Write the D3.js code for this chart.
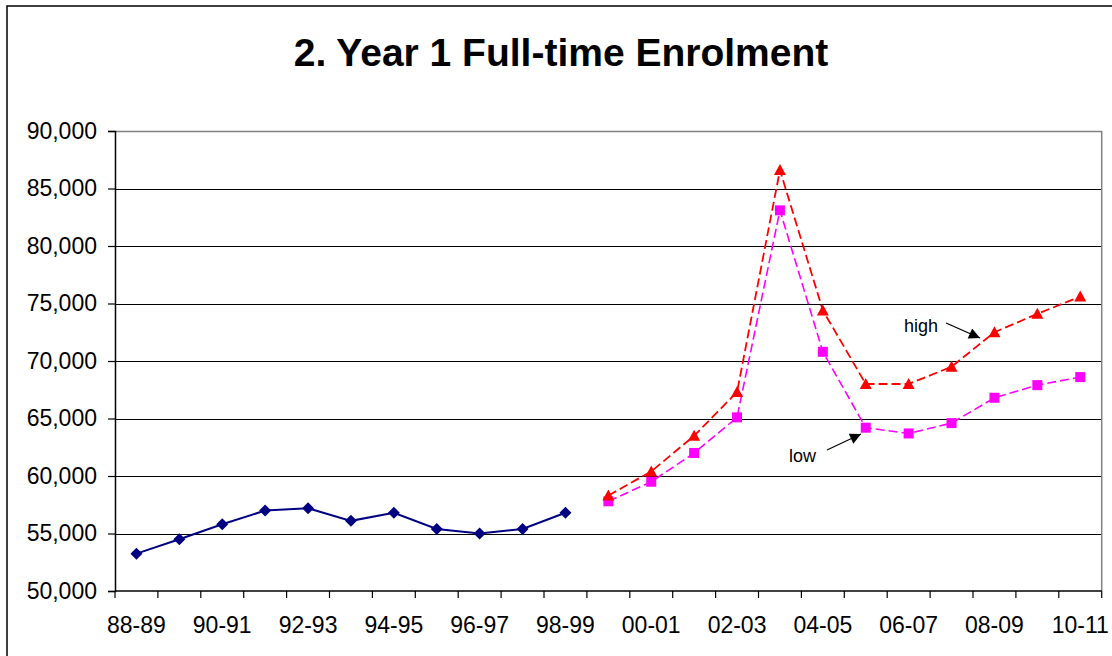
<!DOCTYPE html>
<html>
<head>
<meta charset="utf-8">
<script src="https://cdn.jsdelivr.net/npm/d3@7"></script>
<style>
  html, body { margin: 0; padding: 0; background: #fff; }
  svg { display: block; font-family: "Liberation Sans", Arial, Helvetica, sans-serif; }
</style>
</head>
<body>
<svg id="chart" width="1112" height="656"></svg>
<script>
// School years on the category axis
const categories = ["88-89","89-90","90-91","91-92","92-93","93-94","94-95","95-96","96-97","97-98","98-99",
                    "99-00","00-01","01-02","02-03","03-04","04-05","05-06","06-07","07-08","08-09","09-10","10-11"];

// Actual enrolment, 88-89 to 98-99
const actualYears = categories.slice(0, 11);
const actualValues = [53250, 54500, 55800, 57000, 57200, 56100, 56800, 55400, 55000, 55400, 56800];

// Projections, 99-00 to 10-11
const projYears = categories.slice(11);
const highValues = [58300, 60400, 63500, 67300, 86600, 74400, 68000, 68000, 69500, 72500, 74100, 75600];
const lowValues  = [57800, 59500, 62000, 65100, 83100, 70800, 64200, 63700, 64600, 66800, 67900, 68600];

const yTicks = [50000, 55000, 60000, 65000, 70000, 75000, 80000, 85000, 90000];
const xTickLabels = categories.filter((d, i) => i % 2 === 0);

const svg = d3.select("#chart");

// outer frame
svg.append("rect")
  .attr("x", 7).attr("y", 6).attr("width", 1130).attr("height", 680)
  .attr("fill", "none").attr("stroke", "#000").attr("stroke-width", 1.5);

const plotLeft = 115, plotRight = 1101.7, plotTop = 131, plotBottom = 591;

const x = d3.scaleBand().domain(categories).range([plotLeft, plotRight]).paddingInner(0).paddingOuter(0);
const cx = d => x(d) + x.bandwidth() / 2;
const y = d3.scaleLinear().domain([50000, 90000]).range([plotBottom, plotTop]);

// title
svg.append("text")
  .attr("x", 561).attr("y", 66)
  .attr("text-anchor", "middle")
  .attr("font-size", 39).attr("font-weight", "bold")
  .text("2. Year 1 Full-time Enrolment");

// horizontal gridlines
svg.append("g").selectAll("line")
  .data(yTicks.slice(1, -1))
  .join("line")
  .attr("x1", plotLeft).attr("x2", plotRight)
  .attr("y1", d => Math.round(y(d)) + 0.5).attr("y2", d => Math.round(y(d)) + 0.5)
  .attr("stroke", "#000").attr("stroke-width", 1.2);

// plot border (top and right)
svg.append("path")
  .attr("d", `M${plotLeft},${plotTop + 0.5}H${plotRight}V${plotBottom}`)
  .attr("fill", "none").attr("stroke", "#808080").attr("stroke-width", 1.5);

// y axis
const yAxis = d3.axisLeft(y).tickValues(yTicks).tickSize(7).tickPadding(11)
  .tickFormat(d3.format(","));
const gy = svg.append("g").attr("transform", `translate(${plotLeft},0)`).call(yAxis);
gy.select(".domain").attr("stroke", "#000").attr("stroke-width", 1.5);
gy.selectAll(".tick line").attr("stroke", "#000").attr("stroke-width", 1.2);
gy.selectAll(".tick text")
  .attr("font-size", 23).attr("fill", "#000")
  .attr("font-family", "'Liberation Sans', Arial, sans-serif");

// x axis: tick marks on category boundaries, labels on every other year
const gx = svg.append("g").attr("transform", `translate(0,${plotBottom})`);
gx.append("line").attr("x1", plotLeft).attr("x2", plotRight).attr("y1", 0).attr("y2", 0)
  .attr("stroke", "#000").attr("stroke-width", 1.5);
const boundaries = categories.map(c => x(c)).concat([plotRight]);
gx.selectAll("line.tk")
  .data(boundaries)
  .join("line").attr("class", "tk")
  .attr("x1", d => d).attr("x2", d => d).attr("y1", 0).attr("y2", 7)
  .attr("stroke", "#000").attr("stroke-width", 1.2);
gx.selectAll("text")
  .data(xTickLabels)
  .join("text")
  .attr("x", d => cx(d)).attr("y", 42)
  .attr("text-anchor", "middle")
  .attr("font-size", 23)
  .text(d => d);

// series lines
const line = d3.line().x(d => cx(d[0])).y(d => y(d[1]));
const actual = actualYears.map((c, i) => [c, actualValues[i]]);
const high = projYears.map((c, i) => [c, highValues[i]]);
const low = projYears.map((c, i) => [c, lowValues[i]]);

svg.append("path").datum(low).attr("d", line)
  .attr("fill", "none").attr("stroke", "#FF00FF").attr("stroke-width", 1.6)
  .attr("stroke-dasharray", "9,4");
svg.append("path").datum(high).attr("d", line)
  .attr("fill", "none").attr("stroke", "#FF0000").attr("stroke-width", 1.8)
  .attr("stroke-dasharray", "9,4");
svg.append("path").datum(actual).attr("d", line)
  .attr("fill", "none").attr("stroke", "#000080").attr("stroke-width", 2);

// markers
svg.append("g").selectAll("rect")
  .data(low).join("rect")
  .attr("x", d => cx(d[0]) - 5).attr("y", d => y(d[1]) - 5)
  .attr("width", 10).attr("height", 10).attr("fill", "#FF00FF");

const triPath = "M0,-6L6,5L-6,5Z";
svg.append("g").selectAll("path")
  .data(high).join("path")
  .attr("d", triPath)
  .attr("transform", d => `translate(${cx(d[0])},${y(d[1])})`)
  .attr("fill", "#FF0000");

const diaPath = "M0,-6L6,0L0,6L-6,0Z";
svg.append("g").selectAll("path")
  .data(actual).join("path")
  .attr("d", diaPath)
  .attr("transform", d => `translate(${cx(d[0])},${y(d[1])})`)
  .attr("fill", "#000080");

// annotations
const defs = svg.append("defs");
defs.append("marker")
  .attr("id", "arrowhead")
  .attr("viewBox", "0 0 10 10").attr("refX", 10).attr("refY", 5)
  .attr("markerWidth", 14).attr("markerHeight", 11).attr("markerUnits", "userSpaceOnUse")
  .attr("orient", "auto")
  .append("path").attr("d", "M0,0L10,5L0,10Z").attr("fill", "#000");

svg.append("text").attr("x", 904).attr("y", 332).attr("font-size", 18).text("high");
svg.append("line").attr("x1", 946).attr("y1", 323).attr("x2", 980).attr("y2", 338)
  .attr("stroke", "#000").attr("stroke-width", 1.3).attr("marker-end", "url(#arrowhead)");

svg.append("text").attr("x", 789).attr("y", 462).attr("font-size", 18).text("low");
svg.append("line").attr("x1", 827).attr("y1", 450).attr("x2", 861).attr("y2", 434)
  .attr("stroke", "#000").attr("stroke-width", 1.3).attr("marker-end", "url(#arrowhead)");
</script>
</body>
</html>
